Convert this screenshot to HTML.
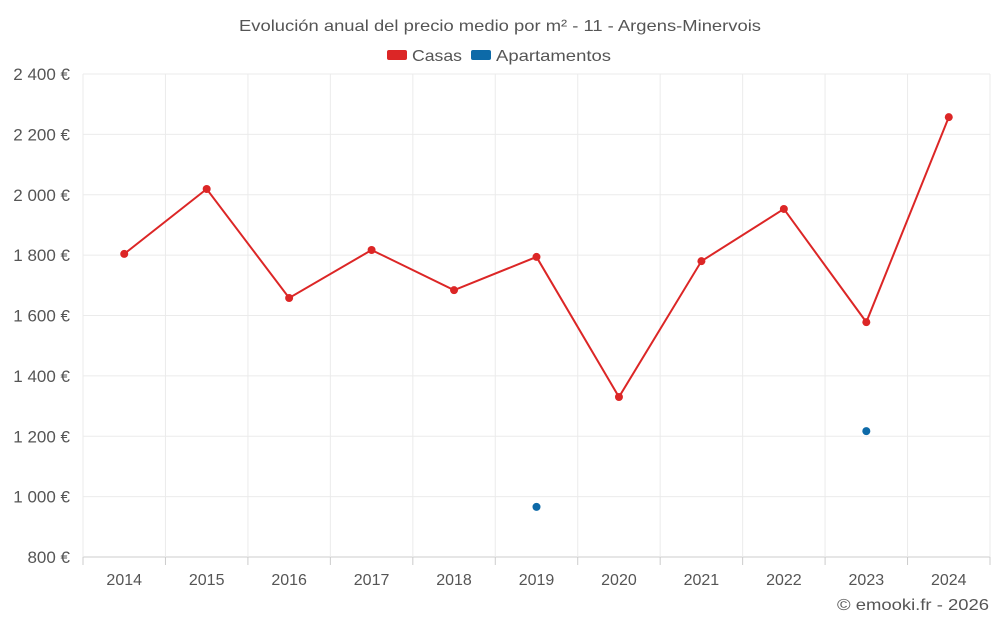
<!DOCTYPE html>
<html><head><meta charset="utf-8"><style>
body{margin:0;background:#fff;width:1000px;height:625px;overflow:hidden;font-family:"Liberation Sans",sans-serif}
text{font-family:"Liberation Sans",sans-serif}
</style></head><body>
<svg id="chart" width="1000" height="625">
<text x="239" y="31" textLength="522" lengthAdjust="spacingAndGlyphs" font-size="16" fill="#555">Evolución anual del precio medio por m² - 11 - Argens-Minervois</text>
<g>
<g><rect x="387" y="50" width="20" height="10" rx="2" fill="#dc2626"/><text x="412" y="61" textLength="50" lengthAdjust="spacingAndGlyphs" font-size="16" fill="#555">Casas</text></g>
<g><rect x="471" y="50" width="20" height="10" rx="2" fill="#0d6aa8"/><text x="496" y="61" textLength="115" lengthAdjust="spacingAndGlyphs" font-size="16" fill="#555">Apartamentos</text></g>
</g>
<g id="grid"></g><g id="axes"></g><g id="marks"></g>
<text x="837" y="610" textLength="152" lengthAdjust="spacingAndGlyphs" font-size="16" fill="#555">© emooki.fr - 2026</text>
</svg>
<script>
const years=["2014","2015","2016","2017","2018","2019","2020","2021","2022","2023","2024"];
const casas=[1804,2019,1658,1817,1684,1794,1330,1780,1953,1578,2257];
const apartamentos=[null,null,null,null,null,966,null,null,null,1217,null];
const yTicks=[800,1000,1200,1400,1600,1800,2000,2200,2400];
const yTickLabels=["800 €","1 000 €","1 200 €","1 400 €","1 600 €","1 800 €","2 000 €","2 200 €","2 400 €"];
const L=83,R=990,T=74,B=557,yMin=800,yMax=2400;
const NS="http://www.w3.org/2000/svg";
const bw=(R-L)/years.length;
const x=i=>L+bw*(i+0.5);
const y=v=>B-(v-yMin)/(yMax-yMin)*(B-T);
function mk(tag,attrs,parent){const e=document.createElementNS(NS,tag);for(const k in attrs)e.setAttribute(k,attrs[k]);document.getElementById(parent).appendChild(e);return e;}
yTicks.forEach((t,i)=>{
 const g=mk("line",{x1:L,x2:R,y1:y(t),y2:y(t),stroke:i===0?"#ccc":"#ebebeb","stroke-width":1},"grid");
 
 
 const tx=mk("text",{x:70,y:y(t)+6,"text-anchor":"end","font-size":17,fill:"#555"},"axes");
 tx.textContent=yTickLabels[i];
 
 
});
for(let i=0;i<=years.length;i++){
 const gl=mk("line",{x1:L+bw*i,x2:L+bw*i,y1:T,y2:B,stroke:"#ebebeb"},"grid");
 
 
 const tk=mk("line",{x1:L+bw*i,x2:L+bw*i,y1:B,y2:B+8,stroke:"#ccc"},"grid");
 
 
}
years.forEach((yr,i)=>{
 const tx=mk("text",{x:x(i),y:585,"text-anchor":"middle","font-size":16,fill:"#555"},"axes");
 tx.textContent=yr;
 
 
});
const line=mk("polyline",{points:casas.map((v,i)=>x(i)+","+y(v)).join(" "),fill:"none",stroke:"#dc2626","stroke-width":2},"marks");


casas.forEach((v,i)=>{
 const c=mk("circle",{cx:x(i),cy:y(v),r:4,fill:"#dc2626"},"marks");
 
 
});
apartamentos.forEach((v,i)=>{
 if(v==null)return;
 const c=mk("circle",{cx:x(i),cy:y(v),r:4,fill:"#0d6aa8"},"marks");
 
 
});
</script>
</body></html>
